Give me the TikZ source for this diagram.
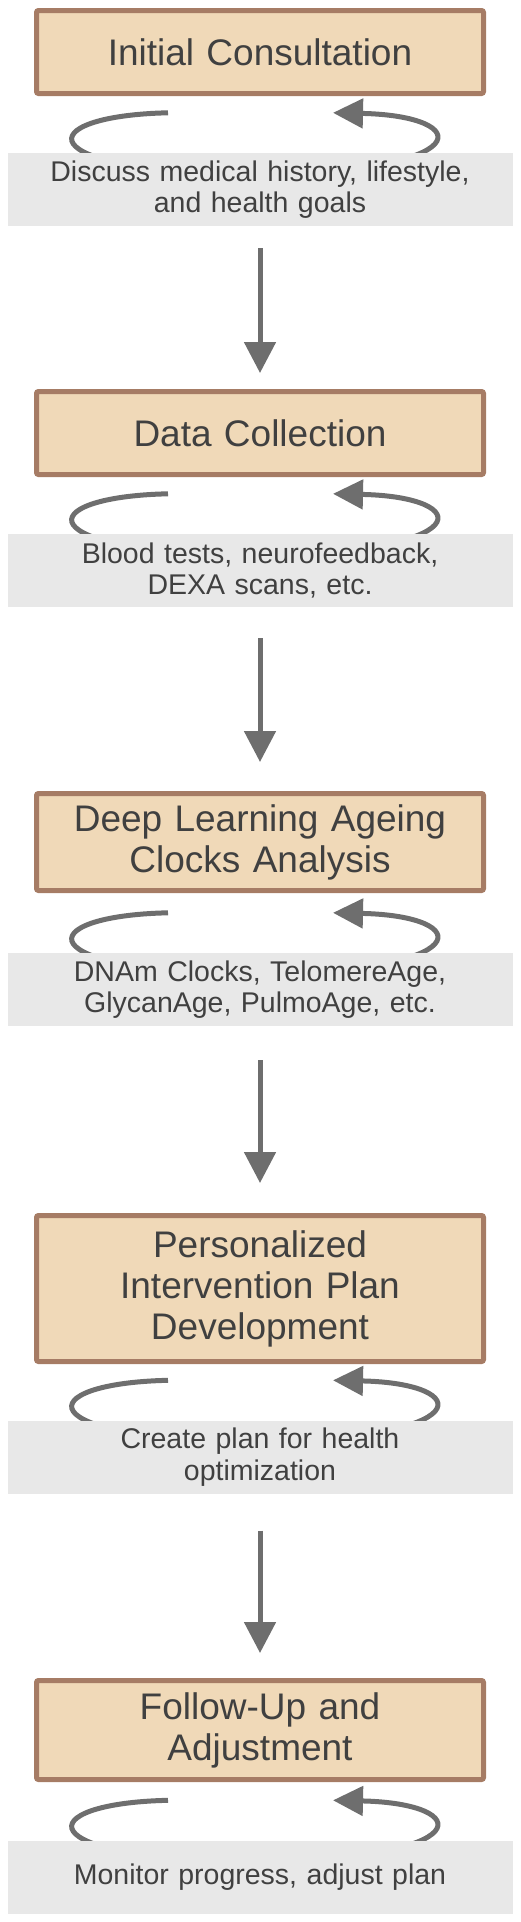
\documentclass[tikz,border=0pt]{standalone}
\usepackage{fontspec}
\setmainfont{Liberation Sans}
\usetikzlibrary{arrows.meta,backgrounds}

\definecolor{stagefill}{HTML}{F0D9B8}
\definecolor{stageborder}{HTML}{A67C65}
\definecolor{notefill}{HTML}{E8E8E8}
\definecolor{flowgray}{HTML}{6E6E6E}
\definecolor{textgray}{HTML}{404040}

\begin{document}
\begin{tikzpicture}[
    x=1pt, y=-1pt,
    pm stage/.style={
        draw=stageborder,
        line width=5pt,
        fill=stagefill,
        rounded corners=2pt,
        minimum width=447pt,
        minimum height=83pt,
        inner ysep=10pt,
        text width=420pt,
        align=center,
        font=\fontsize{37}{41}\selectfont,
        text=textgray
    },
    pm note/.style={
        fill=notefill,
        minimum width=505pt,
        minimum height=73pt,
        inner sep=0pt,
        text width=480pt,
        align=center,
        font=\fontsize{28.5}{31.5}\selectfont,
        text=textgray
    },
    pm flow/.style={
        -{Triangle[length=31pt,width=31pt]},
        line width=5pt,
        draw=flowgray
    },
    pm loop/.style={
        -{Triangle[length=30pt,width=29pt]},
        line width=5pt,
        draw=flowgray
    }
]
    \useasboundingbox (0,0) rectangle (520,1922);

    % Schritte des Ablaufs
    \node[pm stage] (stage1) at (260,52) {Initial Consultation};
    \node[pm note] (note1) at (260,189.5)
        {Discuss medical history, lifestyle,\\and health goals};

    \node[pm stage] (stage2) at (260,433) {Data Collection};
    \node[pm note] (note2) at (260,570.5)
        {Blood tests, neurofeedback,\\DEXA scans, etc.};

    \node[pm stage, minimum height=97pt] (stage3) at (260,842)
        {Deep Learning Ageing\\Clocks Analysis};
    \node[pm note] (note3) at (260,989.5)
        {DNAm Clocks, TelomereAge,\\GlycanAge, PulmoAge, etc.};

    \node[pm stage, minimum height=146pt] (stage4) at (260,1288.5)
        {Personalized\\Intervention Plan\\Development};
    \node[pm note] (note4) at (260,1457)
        {Create plan for health\\optimization};

    \node[pm stage, minimum height=99pt] (stage5) at (260,1730)
        {Follow-Up and\\Adjustment};
    \node[pm note] (note5) at (260,1877) {Monitor progress, adjust plan};

    % Schleifen hinter den Notizen
    \begin{scope}[on background layer]
        \foreach \i in {1,...,5} {
            \coordinate (out\i) at ([shift={(-92,-40)}]note\i.north);
            \coordinate (bot\i) at ([shift={(-7,22)}]note\i.north);
            \coordinate (in\i) at ([shift={(73,-40)}]note\i.north);
            \draw[pm loop] (out\i)
                .. controls +(-138,3) and +(-228,-3) .. (bot\i)
                .. controls +(227,-3) and +(142,3) .. (in\i);
        }
    \end{scope}

    % Pfeile von oben nach unten
    \foreach \i/\j/\gapa/\gapb in {1/2/22pt/16pt,2/3/31pt/29pt,3/4/34pt/30pt,4/5/37pt/25pt} {
        \draw[pm flow, shorten <=\gapa, shorten >=\gapb] (note\i) -- (stage\j);
    }
\end{tikzpicture}
\end{document}
